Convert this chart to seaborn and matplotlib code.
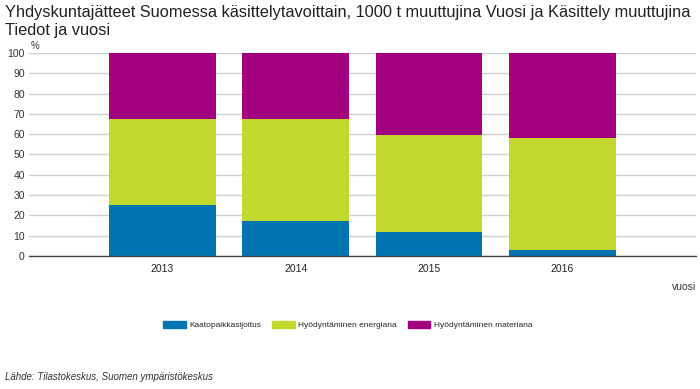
import pandas as pd
import numpy as np
import matplotlib.pyplot as plt
import seaborn as sns

years = ["2013", "2014", "2015", "2016"]
series = ["Kaatopaikkasijoitus", "Hyödyntäminen energiana", "Hyödyntäminen materiana"]
kaatopaikka = [25.0, 17.1, 11.6, 3.1]
energia = [42.5, 50.4, 48.2, 54.9]
materia = [32.5, 32.5, 40.2, 42.0]
colors = ["#0073b0", "#c2d82e", "#a3007f"]

sns.set_theme(style="white")
plt.rcParams["font.family"] = ["Liberation Sans", "DejaVu Sans"]

df = pd.DataFrame({"vuosi": years, series[0]: kaatopaikka,
                   series[1]: energia, series[2]: materia})
# stacked tops, drawn from highest layer down
tops = df[series].cumsum(axis=1)

fig = plt.figure(figsize=(7, 3.89), dpi=100)
ax = fig.add_axes([0.0414, 0.342, 0.9526, 0.522])

for i in [2, 1, 0]:
    sns.barplot(x=df["vuosi"], y=tops[series[i]], order=years, color=colors[i],
                width=0.8, saturation=1, ax=ax, zorder=2, edgecolor="none")

ax.set_xlim(-1, 4)
ax.set_ylim(0, 100)
ax.set_yticks(range(0, 101, 10))
ax.yaxis.grid(True, color="#d0d0d0", linewidth=1, zorder=0)
ax.set_axisbelow(True)
for s in ["top", "right", "left"]:
    ax.spines[s].set_visible(False)
ax.spines["bottom"].set_color("#444444")
ax.spines["bottom"].set_linewidth(1)
ax.tick_params(axis="y", labelsize=7.5, colors="#333333", length=0, pad=3)
ax.tick_params(axis="x", labelsize=7.5, colors="#222222", length=0, pad=6)
ax.set_xlabel("")
ax.set_ylabel("")
ax.text(0.002, 1.02, "%", transform=ax.transAxes, fontsize=7, color="#333333")
ax.text(1.0, -0.13, "vuosi", transform=ax.transAxes, fontsize=7.5,
        color="#333333", ha="right", va="top")

handles = [plt.Rectangle((0, 0), 1, 1, color=c) for c in colors]
fig.legend(handles, series, loc="center", bbox_to_anchor=(0.497, 0.165), ncol=3,
           frameon=False, fontsize=6, handlelength=2.7, handleheight=0.9,
           columnspacing=1.3, handletextpad=0.45)

fig.text(0.007, 0.988, "Yhdyskuntajätteet Suomessa käsittelytavoittain, 1000 t muuttujina Vuosi ja Käsittely muuttujina\nTiedot ja vuosi",
         fontsize=11.8, color="#222222", va="top", ha="left", linespacing=1.3)
fig.text(0.007, 0.022, "Lähde: Tilastokeskus, Suomen ympäristökeskus",
         fontsize=7, style="italic", color="#333333")

fig.savefig("out.png", dpi=100)
